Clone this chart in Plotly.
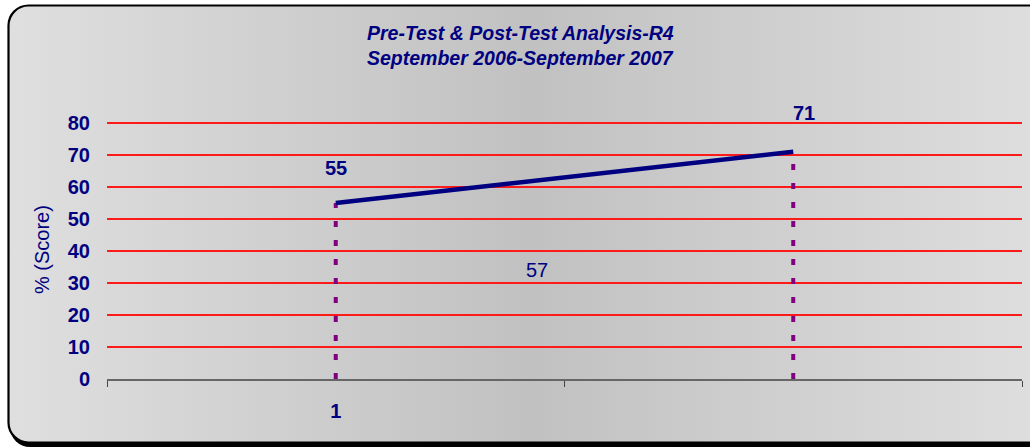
import base64
import plotly.graph_objects as go

# ---- data ----
x_positions = [1, 2]
x_tick_labels = ["1", ""]
scores = [55, 71]
point_labels = ["55", "71"]
middle_label = "57"
y_ticks = [0, 10, 20, 30, 40, 50, 60, 70, 80]
title_lines = ["Pre-Test & Post-Test Analysis-R4", "September 2006-September 2007"]
y_title = "% (Score)"

NAVY = "#000080"
FONT = "Liberation Sans, Arial, sans-serif"

W, H = 1030, 448
ML, MR, MT, MB = 107, 8, 121, 69
PW, PH = W - ML - MR, H - MT - MB
Y_MAX = 80.6

# background: rounded box with horizontal gradient and dark shadow
svg = f'''<svg xmlns="http://www.w3.org/2000/svg" width="{W}" height="{H}" viewBox="0 0 {W} {H}" preserveAspectRatio="none">
<defs><linearGradient id="g" x1="0" y1="0" x2="1" y2="0">
<stop offset="0" stop-color="#dfdfdf"/><stop offset="0.5" stop-color="#c1c1c1"/><stop offset="1" stop-color="#dfdfdf"/>
</linearGradient></defs>
<rect x="10" y="9" width="1045" height="438" rx="20" ry="20" fill="#000"/>
<rect x="8.5" y="5.5" width="1045" height="437" rx="20" ry="20" fill="url(#g)" stroke="#000" stroke-width="2.2"/>
</svg>'''
src = "data:image/svg+xml;base64," + base64.b64encode(svg.encode()).decode()

fig = go.Figure()

# drop lines
for xv, yv in zip(x_positions, scores):
    fig.add_trace(go.Scatter(x=[xv, xv], y=[0, yv], mode="lines",
                             line=dict(color="#800080", width=4, dash="6px,13px"),
                             hoverinfo="skip", showlegend=False))

# main line
fig.add_trace(go.Scatter(x=x_positions, y=scores, mode="lines",
                         line=dict(color=NAVY, width=4.5), showlegend=False))

annotations = []
shifts = [(0, 35), (11, 39)]
for xv, yv, lab, (dx, dy) in zip(x_positions, scores, point_labels, shifts):
    annotations.append(dict(x=xv, y=yv, xref="x", yref="y", text=f"<b>{lab}</b>",
                            showarrow=False, xshift=dx, yshift=dy,
                            xanchor="center", yanchor="middle",
                            font=dict(family=FONT, size=20, color=NAVY)))
annotations.append(dict(x=1.44, y=34, xref="x", yref="y", text=middle_label,
                        showarrow=False, xanchor="center", yanchor="middle",
                        font=dict(family=FONT, size=20, color=NAVY)))
annotations.append(dict(x=(42 - ML) / PW, y=(379 - 250) / PH, xref="paper", yref="paper",
                        text=y_title, textangle=-90, showarrow=False,
                        xanchor="center", yanchor="middle",
                        font=dict(family=FONT, size=20, color=NAVY)))
for i, line in enumerate(title_lines):
    annotations.append(dict(x=(520 - ML) / PW, y=(H - MB - (33 + 25 * i)) / PH,
                            xref="paper", yref="paper", text=f"<b><i>{line}</i></b>",
                            showarrow=False, xanchor="center", yanchor="middle",
                            font=dict(family=FONT, size=19.5, color=NAVY)))

fig.update_layout(
    width=W, height=H,
    margin=dict(l=ML, r=MR, t=MT, b=MB, autoexpand=False),
    paper_bgcolor="white", plot_bgcolor="rgba(0,0,0,0)",
    showlegend=False,
    annotations=annotations,
    images=[dict(source=src, xref="paper", yref="paper",
                 x=-ML / PW, y=(H - MB) / PH, sizex=W / PW, sizey=H / PH,
                 xanchor="left", yanchor="top", sizing="stretch", layer="below")],
    xaxis=dict(range=[0.5, 2.5], tickmode="array", tickvals=x_positions, ticktext=x_tick_labels,
               ticks="", showgrid=False, zeroline=False, showline=True,
               linecolor="#666666", linewidth=2, ticklabelstandoff=13,
               tickfont=dict(family=FONT, size=20, color=NAVY, weight="bold"),
               minor=dict(tickvals=[0.5, 1.5, 2.5], ticks="outside", ticklen=6,
                          tickcolor="#444444", tickwidth=1, showgrid=False),
               fixedrange=True),
    yaxis=dict(range=[0, Y_MAX], tickmode="array", tickvals=y_ticks,
               showgrid=True, gridcolor="#ff1a1a", gridwidth=2, zeroline=False,
               showline=False, ticks="", ticklabelstandoff=16,
               tickfont=dict(family=FONT, size=20, color=NAVY, weight="bold"),
               fixedrange=True),
)

fig.write_html("out.html", config={"displayModeBar": False},
               post_script="document.body.style.margin='0';document.body.style.overflow='hidden';")
